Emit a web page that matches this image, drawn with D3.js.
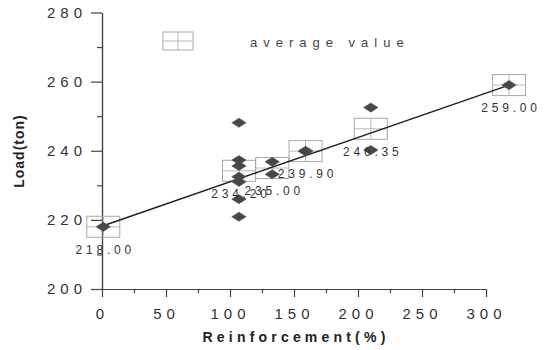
<!DOCTYPE html>
<html>
<head>
    <style>
        body { margin: 0; background: #fff; }
        svg { font-family: "Liberation Sans", Arial, sans-serif; }
        .tick text { font-size: 15px; letter-spacing: 5px; fill: #333; }
        .axis path, .axis line { stroke: #444; stroke-width: 1.2; }
        .lbl { font-size: 12px; letter-spacing: 3.8px; fill: #333; text-anchor: middle; }
        .title { font-size: 14px; font-weight: bold; fill: #222; text-anchor: middle; }
    </style>
    <script src="https://d3js.org/d3.v7.min.js"></script>
</head>
<body>
    <svg width="546" height="350"></svg>
    <script>
        var pointX = [1, 107, 107, 107, 107, 107, 107, 107, 133, 133, 159, 159, 210, 210, 318];
        var pointY = [218.0, 248.1, 237.3, 235.6, 232.5, 231.0, 226.0, 220.9, 236.8, 233.2, 240.0, 239.8, 252.5, 240.2, 259.0];

        // average values
        var avgX = [1, 107, 133, 159, 210, 318];
        var avgY = [218.00, 234.20, 235.00, 239.90, 246.35, 259.00];

        // fitted line end points
        var fitX = [1, 318];
        var fitY = [218.3, 259.0];

        var xTicks = [0, 50, 100, 150, 200, 250, 300];
        var xMinor = [25, 75, 125, 175, 225, 275];
        var yTicks = [200, 220, 240, 260, 280];
        var yMinor = [210, 230, 250, 270];

        var svg = d3.select("svg");

        var x = d3.scaleLinear().domain([0, 300]).range([102, 486]);
        var y = d3.scaleLinear().domain([200, 280]).range([289, 12.5]);

        // axes
        svg.append("g")
           .attr("class", "axis")
           .attr("transform", "translate(" + x(0) + ",0)")
           .call(d3.axisLeft(y).tickValues(yTicks).tickSize(11).tickSizeOuter(0).tickPadding(4));
        svg.append("g")
           .attr("class", "axis")
           .attr("transform", "translate(" + x(0) + ",0)")
           .call(d3.axisLeft(y).tickValues(yMinor).tickSize(5).tickSizeOuter(0).tickFormat(""));

        svg.append("g")
           .attr("class", "axis")
           .attr("transform", "translate(0," + y(200) + ")")
           .call(d3.axisBottom(x).tickValues(xTicks).tickSize(8).tickSizeOuter(0).tickPadding(11));
        svg.append("g")
           .attr("class", "axis")
           .attr("transform", "translate(0," + y(200) + ")")
           .call(d3.axisBottom(x).tickValues(xMinor).tickSize(4).tickSizeOuter(0).tickFormat(""));

        // axis titles
        svg.append("text")
           .attr("class", "title")
           .attr("x", 296).attr("y", 342)
           .style("letter-spacing", "4.2px")
           .text("Reinforcement(%)");
        svg.append("text")
           .attr("class", "title")
           .attr("transform", "translate(24,151) rotate(-90)")
           .style("letter-spacing", "1px")
           .text("Load(ton)");

        // box with a cross, like the original marker
        function crossBox(g, cx, cy, w, h) {
            g.append("rect")
             .attr("x", cx - w / 2).attr("y", cy - h / 2)
             .attr("width", w).attr("height", h)
             .attr("fill", "none").attr("stroke", "#a8a8a8");
            g.append("line")
             .attr("x1", cx - w / 2).attr("x2", cx + w / 2)
             .attr("y1", cy).attr("y2", cy)
             .attr("stroke", "#b8b8b8");
            g.append("line")
             .attr("x1", cx).attr("x2", cx)
             .attr("y1", cy - h / 2).attr("y2", cy + h / 2)
             .attr("stroke", "#b8b8b8");
        }

        var boxes = svg.append("g");
        avgX.forEach(function(v, i) {
            crossBox(boxes, x(v), y(avgY[i]), 33, 21);
        });

        // fitted line
        svg.append("line")
           .attr("x1", x(fitX[0])).attr("y1", y(fitY[0]))
           .attr("x2", x(fitX[1])).attr("y2", y(fitY[1]))
           .attr("stroke", "#1e1e1e")
           .attr("stroke-width", 1.4);

        // diamonds
        svg.append("g").selectAll("path")
           .data(pointX)
           .enter().append("path")
           .attr("transform", function(d, i) { return "translate(" + x(d) + "," + y(pointY[i]) + ")"; })
           .attr("d", "M0,-4.6L7.2,0L0,4.6L-7.2,0Z")
           .attr("fill", "#474747")
           .attr("stroke", "#555")
           .attr("stroke-width", 0.6);

        // average labels
        var fmt = d3.format(".2f");
        svg.append("g").selectAll("text")
           .data(avgX)
           .enter().append("text")
           .attr("class", "lbl")
           .attr("x", function(d) { return x(d) + 2; })
           .attr("y", function(d, i) { return y(avgY[i]) + 27; })
           .text(function(d, i) { return fmt(avgY[i]); });

        // legend
        crossBox(svg.append("g"), 178, 41, 30, 18);
        svg.append("text")
           .attr("x", 250).attr("y", 47)
           .style("font-size", "13px")
           .style("letter-spacing", "6px")
           .attr("fill", "#444")
           .text("average value");
    </script>
</body>
</html>
